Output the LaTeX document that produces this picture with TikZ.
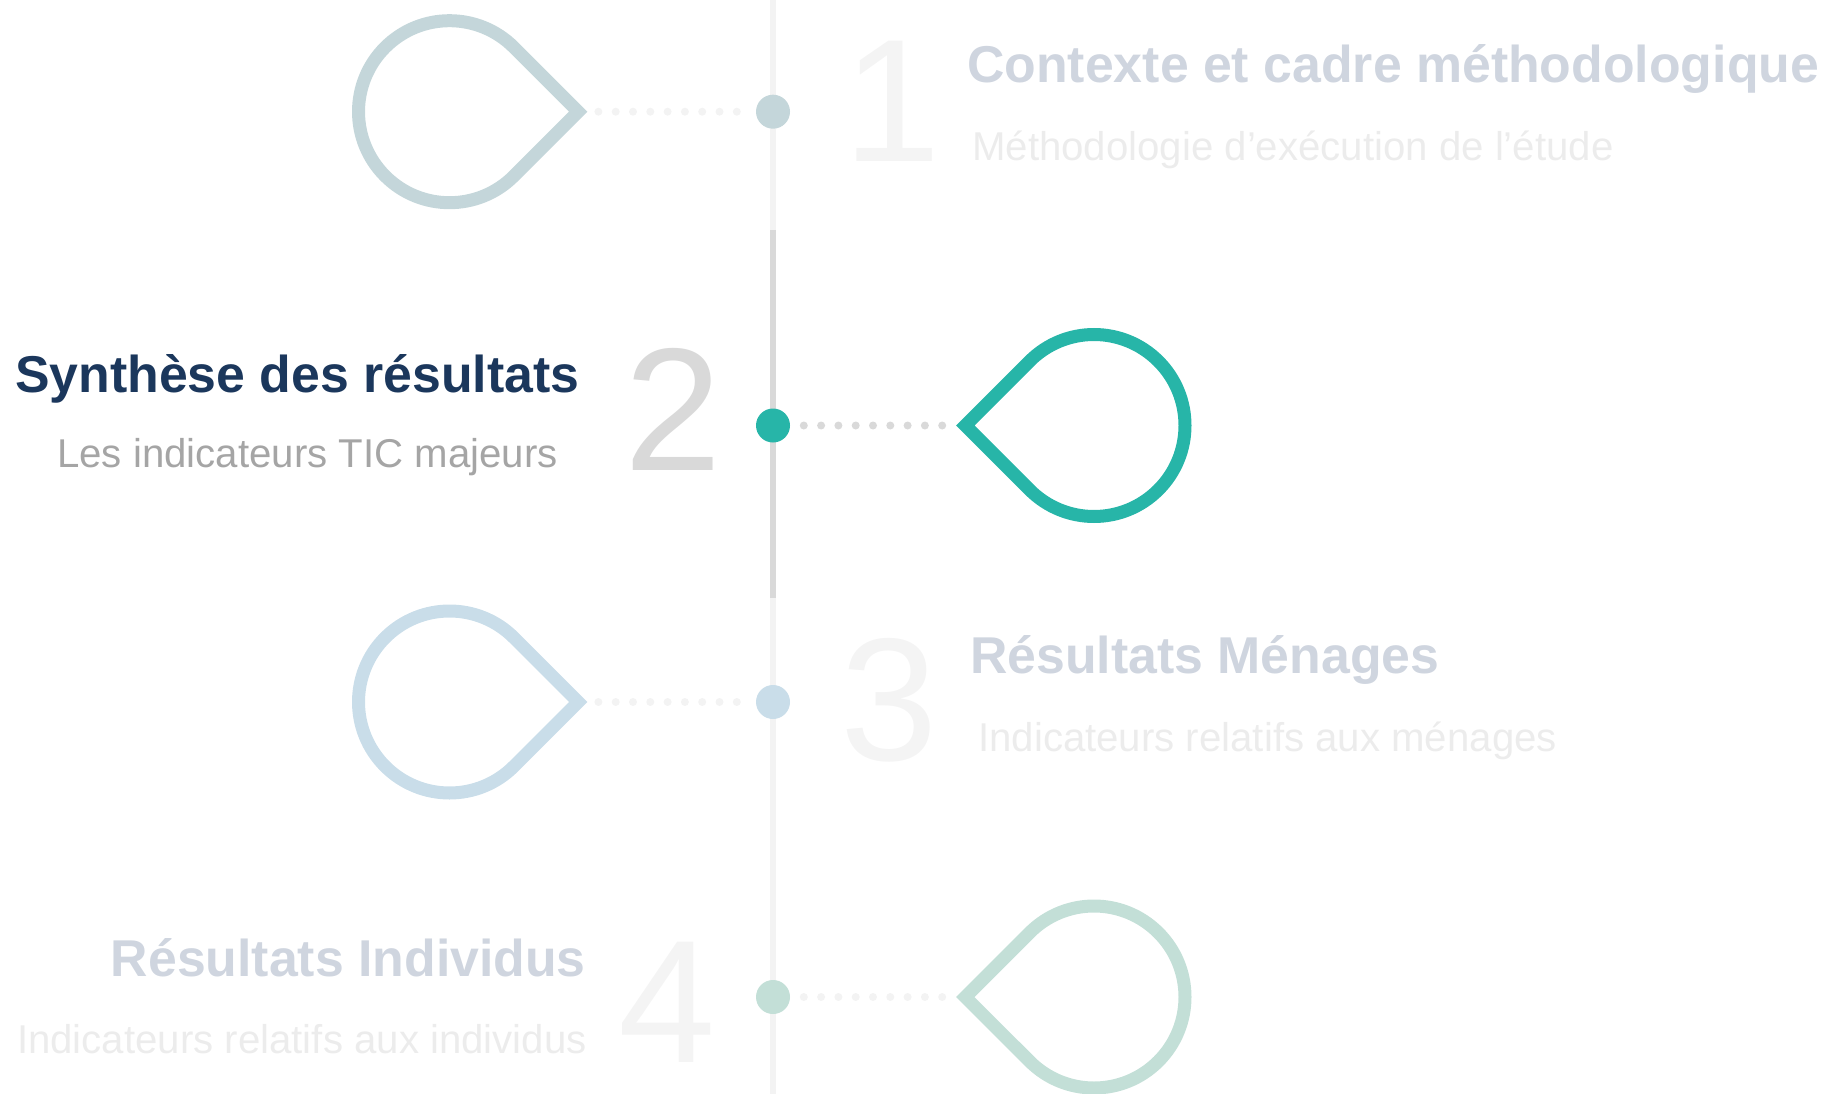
\documentclass[tikz,border=0pt]{standalone}
\usepackage{fontspec}
\setmainfont{Liberation Sans}
\definecolor{navy}{HTML}{1B375C}
\definecolor{tealon}{HTML}{27B5A8}
\definecolor{dropgray}{HTML}{C4D6DA}
\definecolor{dropblue}{HTML}{C9DDE9}
\definecolor{dropgreen}{HTML}{C3DFD7}
\definecolor{lineon}{HTML}{D9D9D9}
\definecolor{lineoff}{HTML}{F3F3F3}
\definecolor{titleoff}{HTML}{CFD5DF}
\definecolor{suboff}{HTML}{ECECEC}
\definecolor{subon}{HTML}{A5A5A5}
\definecolor{numoff}{HTML}{F4F4F4}
\begin{document}
\begin{tikzpicture}[x=1pt, y=-1pt,
   title/.style={font=\fontsize{51.8}{60}\selectfont\bfseries, inner sep=0pt},
   subtitle/.style={font=\fontsize{40.2}{48}\selectfont, inner sep=0pt},
   numeral/.style={font=\fontsize{175}{180}\selectfont, inner sep=0pt},
   pin/.style={circle, inner sep=0pt, minimum size=34pt},
   drop/.style={line width=13pt, line join=miter},
   dotline/.style={line width=8pt, line cap=round, dash pattern=on 0pt off 17.3pt}]
\useasboundingbox (0,0) rectangle (1825,1094);

\coordinate (top) at (773,0);
\coordinate (bot) at (773,1094);
\coordinate (a) at (773,230);
\coordinate (b) at (773,598);
\draw [lineoff, line width=6pt] (top) -- (bot);
\draw [lineon, line width=6pt] (a) -- (b);

\node [pin, fill=dropgray]  (p1) at (773,111.7) {};
\node [pin, fill=tealon]    (p2) at (773,425.5) {};
\node [pin, fill=dropblue]  (p3) at (773,702) {};
\node [pin, fill=dropgreen] (p4) at (773,997) {};

\coordinate (tip1) at (578.2,111.7);
\coordinate (tip2) at (965.3,425.5);
\coordinate (tip3) at (578.2,702);
\coordinate (tip4) at (965.3,997);

\draw [drop, dropgray]  (tip1) -- ++(-64.35,-64.35) arc[start angle=-45, end angle=-315, radius=91] -- cycle;
\draw [drop, tealon]    (tip2) -- ++(64.35,-64.35) arc[start angle=225, end angle=495, radius=91] -- cycle;
\draw [drop, dropblue]  (tip3) -- ++(-64.35,-64.35) arc[start angle=-45, end angle=-315, radius=91] -- cycle;
\draw [drop, dropgreen] (tip4) -- ++(64.35,-64.35) arc[start angle=225, end angle=495, radius=91] -- cycle;

\foreach \p in {1,3}
   \draw [dotline, lineoff, shorten <=19pt, shorten >=17pt] (p\p) -- (tip\p);
\draw [dotline, lineon, shorten <=13.6pt, shorten >=21pt] (p2) -- (tip2);
\draw [dotline, lineoff, shorten <=13.6pt, shorten >=21pt] (p4) -- (tip4);

\node [numeral, anchor=base west, text=numoff] (n1) at (843,161.7) {1};
\node [numeral, anchor=base east, text=lineon] (n2) at (722,470) {2};
\node [numeral, anchor=base west, text=numoff] (n3) at (840,760) {3};
\node [numeral, anchor=base east, text=numoff] (n4) at (716,1062) {4};

\node [title, anchor=base west, text=titleoff] (t1) at (967,83) {Contexte et cadre méthodologique};
\node [subtitle, anchor=base west, text=suboff] (s1) at (972,161) {Méthodologie d’exécution de l’étude};

\node [title, anchor=base west, text=navy] (t2) at (15,392) {Synthèse des résultats};
\node [subtitle, anchor=base west, text=subon] (s2) at (57,467) {Les indicateurs TIC majeurs};

\node [title, anchor=base west, text=titleoff] (t3) at (970,673) {Résultats Ménages};
\node [subtitle, anchor=base west, text=suboff] (s3) at (978,751) {Indicateurs relatifs aux ménages};

\node [title, anchor=base east, text=titleoff] (t4) at (586,976) {Résultats Individus};
\node [subtitle, anchor=base east, text=suboff] (s4) at (587,1053) {Indicateurs relatifs aux individus};
\end{tikzpicture}
\end{document}
